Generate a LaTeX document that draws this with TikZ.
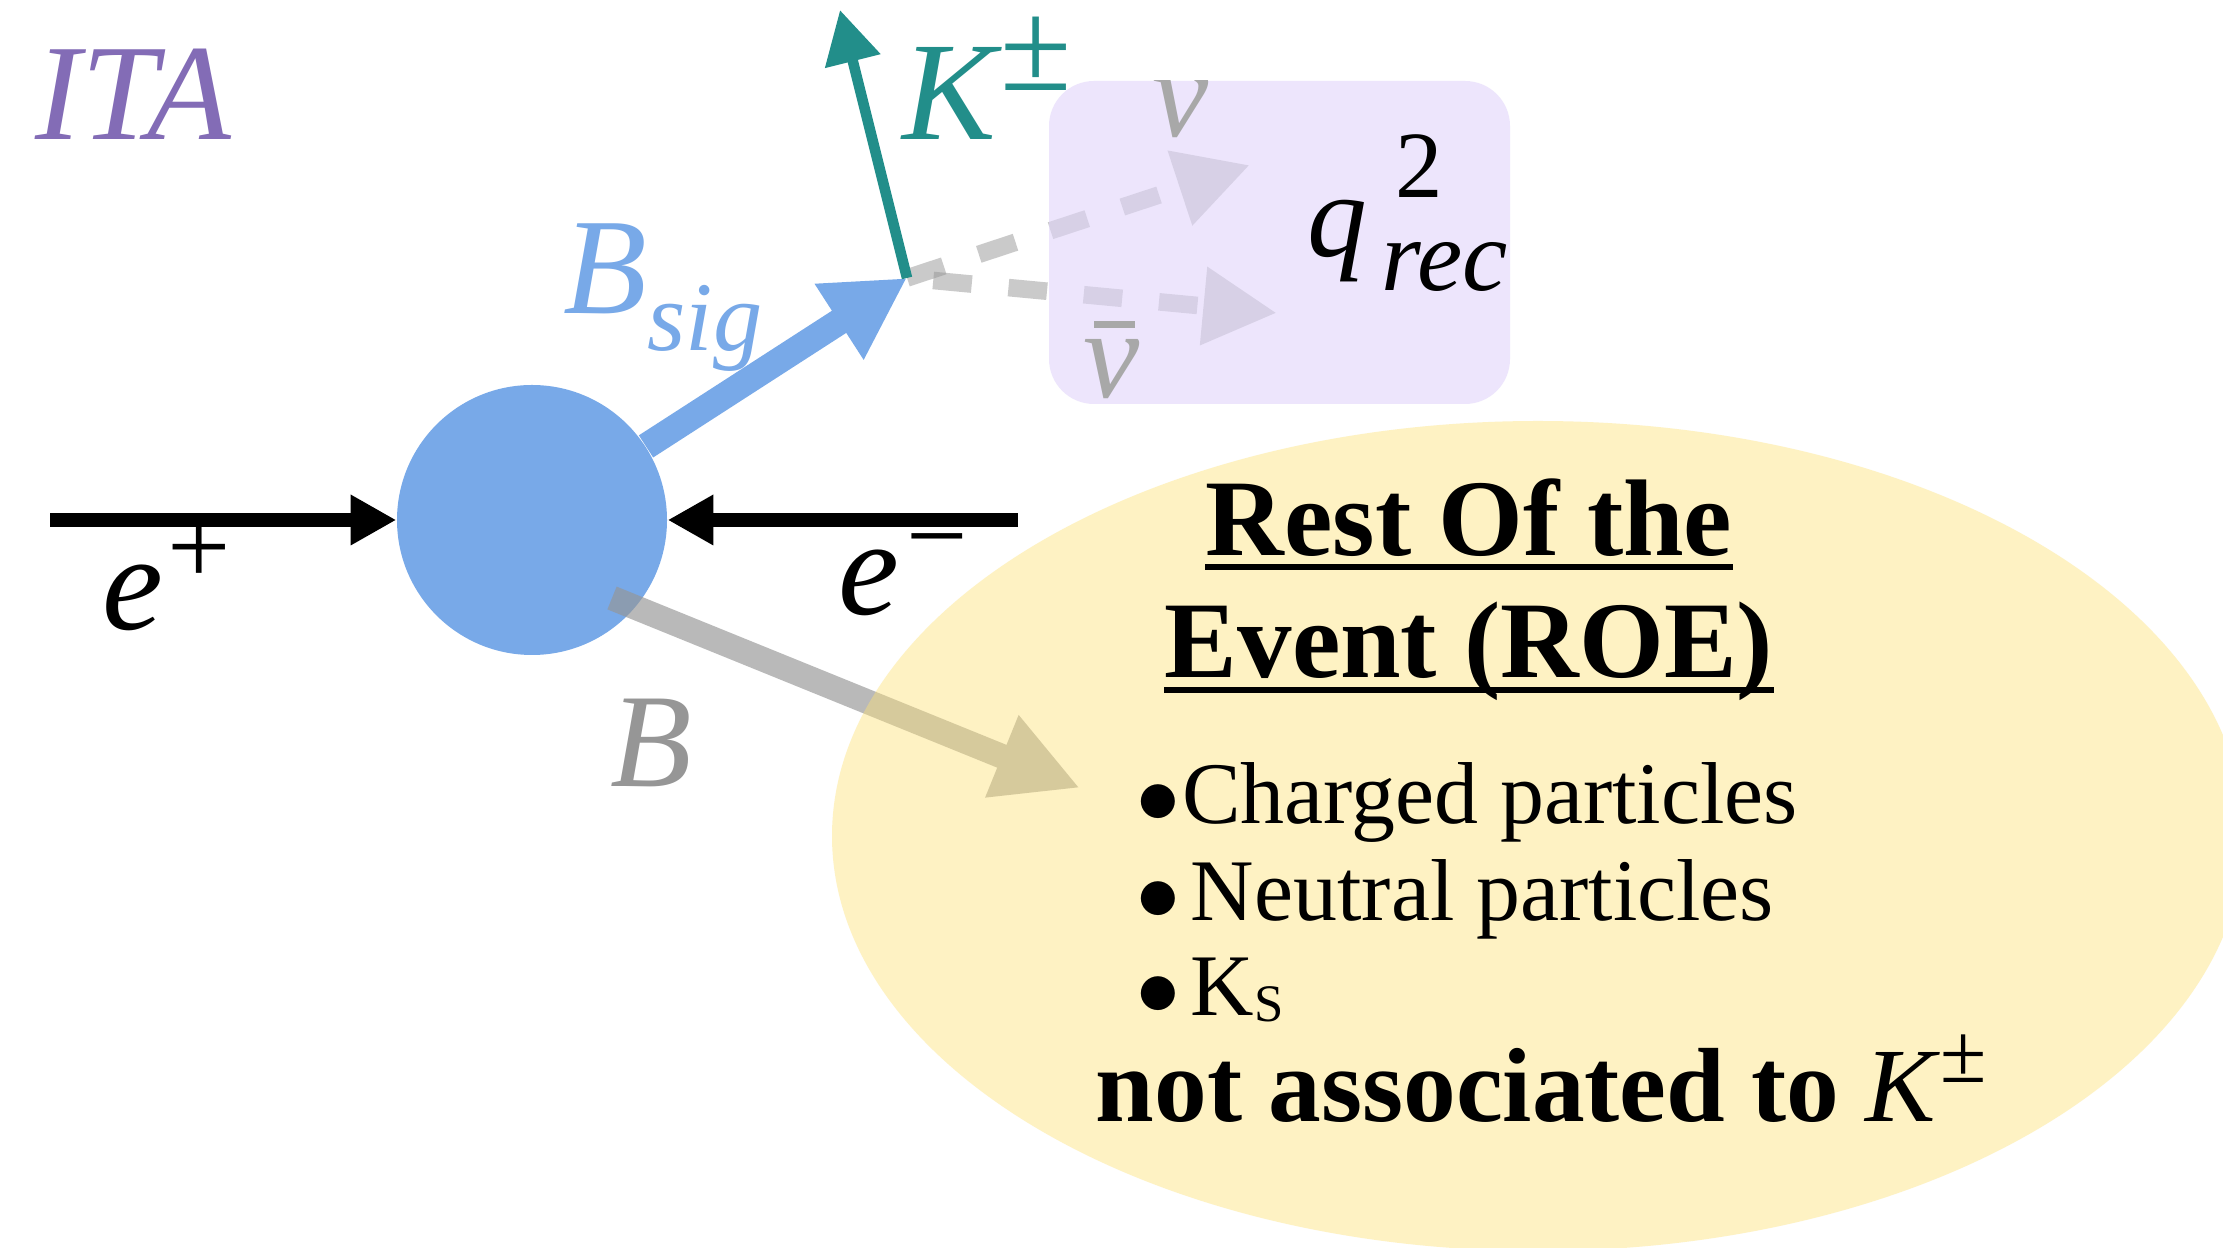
\documentclass[tikz,border=0pt]{standalone}
\usepackage{fontspec}
\setmainfont{Liberation Serif}
\usetikzlibrary{arrows.meta, positioning, calc, shapes.geometric}
\definecolor{itapurple}{HTML}{836CB6}
\definecolor{bblue}{HTML}{78A9E8}
\definecolor{kteal}{HTML}{228E8A}
\definecolor{nugray}{HTML}{A8A8A8}
\definecolor{bgray}{HTML}{969696}
\definecolor{qlilac}{HTML}{E1D5FA}
\definecolor{roeyellow}{HTML}{FDE176}

\newcommand{\fs}[1]{\fontsize{#1}{#1}\selectfont}
\newcommand{\roebullet}{{\fs{29}$\bullet$}}

\begin{document}
\begin{tikzpicture}[
    beam/.style={line width=4.2pt, -{Triangle[length=13pt, width=13.5pt]}},
    sigarrow/.style={bblue, line width=7.5pt, -{Triangle[length=23pt, width=24pt]}},
    karrow/.style={kteal, line width=3pt, -{Triangle[length=15pt, width=15.5pt]}},
    nuarrow/.style={bgray, line width=5pt,
      dash pattern=on 11pt off 10.5pt, -{Triangle[length=21pt, width=21pt]}},
    tagarrow/.style={bgray, line width=7pt, -{Triangle[length=24pt, width=23.5pt]}},
    lbl/.style={anchor=base west, inner sep=0pt},
  ]

  % Background
  \fill[white] (0,0) rectangle (22.23,12.47);
  \clip (0,0) rectangle (22.23,12.47);

  \node[lbl, itapurple] (ita) at (0.35,11.07) {\fs{39}\itshape ITA};

  % === Collision ===
  \node[circle, fill=bblue, minimum size=2.7cm, inner sep=0pt] (col) at (5.32,7.27) {};

  \coordinate (epsrc) at (0.50,7.27);
  \coordinate (emsrc) at (10.18,7.27);
  \draw[beam] (epsrc) -- (col.west);
  \draw[beam] (emsrc) -- (col.east);
  \node[lbl] (eplbl) at (1.02,6.17) {{\fs{39}\itshape e}\hspace{1pt}\raisebox{13pt}{\fs{32}+}};
  \node[lbl] (emlbl) at (8.38,6.32) {{\fs{39}\itshape e}\hspace{2pt}\raisebox{12pt}{\fs{31}−}};

  % Tag side B
  \coordinate (bsrc) at ($(col.center)+(0.80,-0.78)$);
  \coordinate (btip) at (10.80,4.59);
  \begin{scope}[transparency group, opacity=0.66]
    \draw[tagarrow] (bsrc) -- (btip);
  \end{scope}
  \node[lbl, bgray] (blbl) at (6.10,4.60) {\fs{38}\itshape B};

  % === Rest of the event ===
  \node[ellipse, fill=roeyellow, fill opacity=0.43, minimum width=14.12cm,
        minimum height=8.3cm, inner sep=0pt] (roe) at (15.38,4.11) {};

  \node[anchor=base, inner sep=0pt, font=\bfseries\fs{31}] (rest) at (14.69,6.91) {Rest Of the};
  \draw[line width=1.7pt] ([yshift=-3.1pt]rest.base west) -- ([yshift=-3.1pt]rest.base east);
  \node[anchor=base, inner sep=0pt, font=\bfseries\fs{31}] (event) at (14.69,5.69) {Event (ROE)};
  \draw[line width=1.7pt] ([yshift=-3.4pt]event.base west) -- ([yshift=-3.4pt]event.base east);

  \node[lbl, font=\fs{25}] (chg) at (11.36,4.23) {\roebullet\hspace{0.5pt}Charged particles};
  \node[lbl, font=\fs{25}] (neu) at (11.36,3.26) {\roebullet\hspace{3pt}Neutral particles};
  \node[lbl, font=\fs{25}] (kshort) at (11.36,2.31) {\roebullet\hspace{3pt}K\raisebox{-1.5pt}{\fs{15}S}};
  \node[lbl, font=\bfseries\fs{30}] (notk) at (10.95,1.26)
    {not associated to \textmd{\textit{K}}\raisebox{11pt}{\mdseries\fs{24}±}};

  % === Signal side ===
  \coordinate (vtx) at (9.07,9.69);
  \draw[sigarrow] (col) -- (vtx);
  \node[lbl, bblue] (bsiglbl) at (5.63,9.33) {{\fs{39}\itshape B}\raisebox{-10.5pt}{\fs{28}\itshape sig}};

  % Neutrinos and q2 box
  \coordinate (nutip) at (12.50,10.82);
  \coordinate (nubtip) at (12.77,9.34);
  \begin{scope}[transparency group, opacity=0.5]
    \draw[nuarrow] (vtx) -- (nutip);
  \end{scope}
  \begin{scope}[transparency group, opacity=0.5]
    \draw[nuarrow, dash phase=14pt] (vtx) -- (nubtip);
  \end{scope}

  \node[fill=qlilac, fill opacity=0.6, rounded corners=0.45cm, minimum width=4.61cm,
        minimum height=3.23cm, inner sep=0pt] (qbox) at (12.795,10.045) {};
  \begin{scope}
    \clip (qbox.south west) rectangle (qbox.north east);
    \node[lbl, nugray] (nulbl) at (11.52,11.10) {\fs{36}\itshape ν};
  \end{scope}
  \node[lbl, nugray] (nubarlbl) at (10.83,8.49)
    {\rlap{\hspace{3pt}\rule[20pt]{11.5pt}{2pt}}\fs{36}\itshape ν};
  \node[lbl] (qlbl) at (13.07,9.90)
    {{\fs{34}\itshape q}\rlap{\hspace{8pt}\raisebox{17pt}{\fs{27}2}}\hspace{4pt}\raisebox{-9.4pt}{\fs{29}\itshape rec}};

  % Kaon
  \coordinate (ktip) at (8.40,12.37);
  \draw[karrow] (vtx) -- (ktip);
  \node[lbl, kteal] (klbl) at (9.02,11.07) {{\fs{40}\itshape K}\hspace{1pt}\raisebox{14pt}{\fs{37}±}};

\end{tikzpicture}
\end{document}
